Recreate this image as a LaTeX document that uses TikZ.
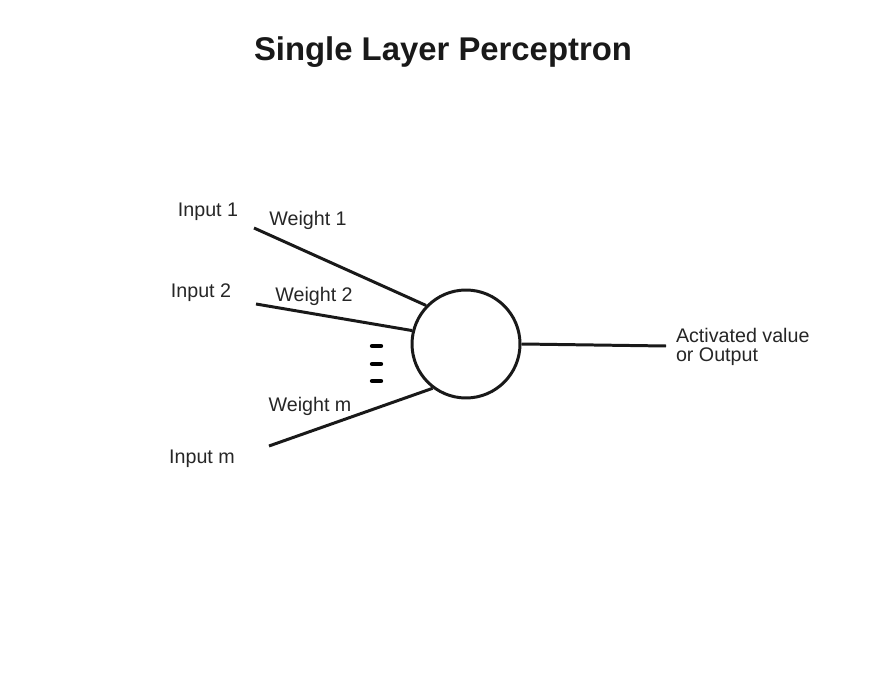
\documentclass[tikz,border=0pt]{standalone}
\usepackage{fontspec}
\setmainfont{Liberation Sans}
\usepackage{tikz}
\usetikzlibrary{positioning}

\begin{document}
\begin{tikzpicture}[x=0.02cm, y=-0.02cm, every node/.style={inner sep=0pt}, lbl/.style={font=\fontsize{11.2}{12}\selectfont, text=black!85}, wire/.style={line width=1.7pt, draw=black!90}]
    \useasboundingbox (0,0) rectangle (871,695);

    \node[font=\fontsize{18.7}{20}\selectfont\bfseries, text=black!90] (title) at (443,52) {Single Layer Perceptron};

    \node[draw=black!90, line width=1.7pt, circle, minimum size=2.16cm] (neuron) at (466,344) {};

    \node[lbl] (in1) at (208,212) {Input 1};
    \node[lbl] (in2) at (201,293) {Input 2};
    \node[lbl] (inm) at (202,459) {Input m};
    \node[lbl] (w1) at (308,220) {Weight 1};
    \node[lbl] (w2) at (314,296) {Weight 2};
    \node[lbl] (wm) at (310,406) {Weight m};

    \coordinate (s1) at (254,228);
    \coordinate (s2) at (256,304);
    \coordinate (sm) at (269,446);
    \coordinate (o) at (666,346);
    \node[lbl, right=5.5pt of o, yshift=-0.5pt, align=left, font=\fontsize{11.2}{10.5}\selectfont] (out) {Activated value\\or Output};

    \draw[wire] (s1) -- (neuron.136);
    \draw[wire] (s2) -- (neuron.166);
    \draw[wire] (sm) -- (neuron.-127);
    \draw[wire] (neuron.0) -- (o);

    % dots between the inputs
    \foreach \y in {346,364,381}
        \draw[line width=2.5pt, line cap=round] (372,\y) -- (381,\y);
\end{tikzpicture}
\end{document}
